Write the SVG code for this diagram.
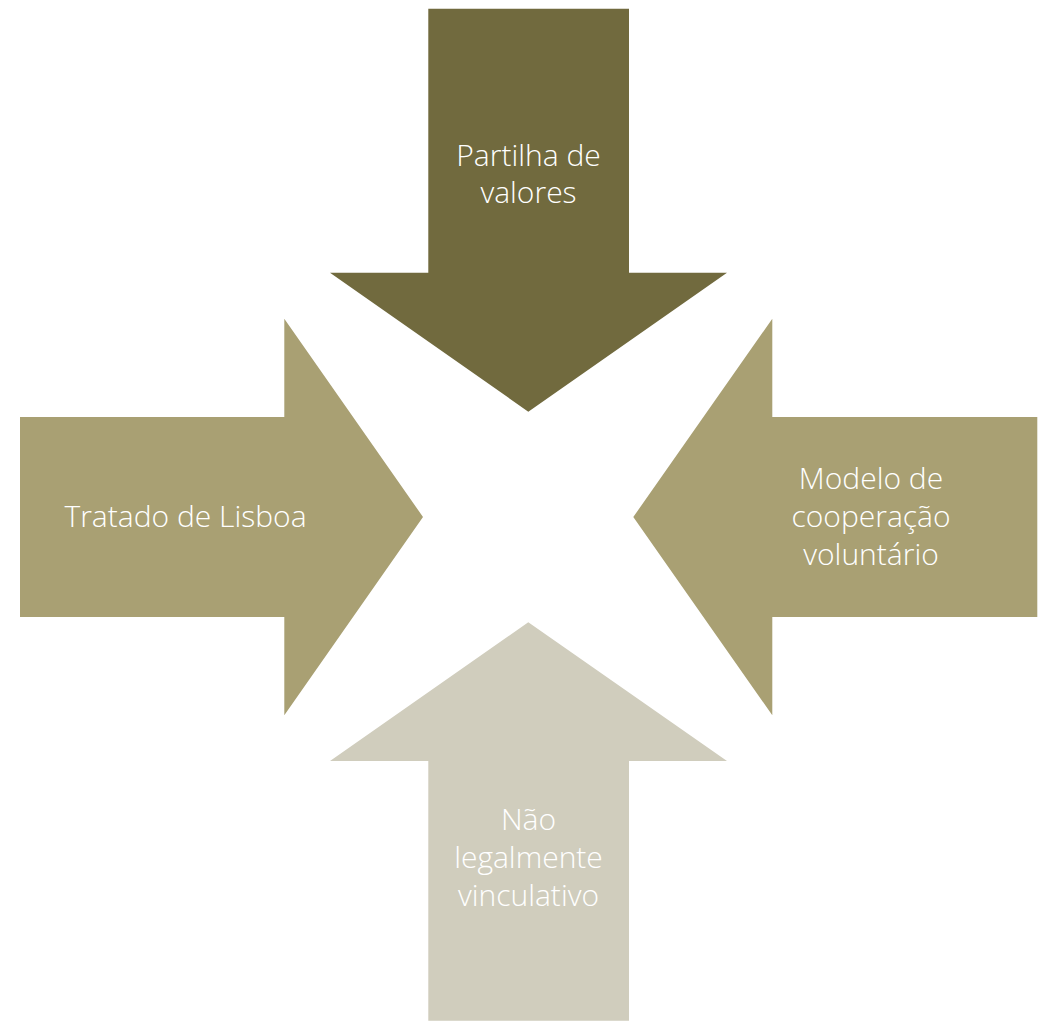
<svg xmlns="http://www.w3.org/2000/svg" width="1038" height="1021" viewBox="0 0 1038 1021">
<style>
text{font-family:"Open Sans","Noto Sans","Liberation Sans",sans-serif;font-weight:300;font-size:30px;fill:#ffffff;text-anchor:middle}
.dark{fill:#716A3E}
.mid{fill:#A9A073}
.light{fill:#D0CDBD}
</style>
<rect width="1038" height="1021" fill="#ffffff"/>
<g id="connectors"></g>
<g id="node-top">
<polygon class="dark" points="428.3,8.7 629,8.7 629,272.7 727,272.7 528.3,411.7 330,272.7 428.3,272.7"/>
<text x="528.5" y="165.7">Partilha de</text>
<text x="528.5" y="202.5">valores</text>
</g>
<g id="node-left">
<polygon class="mid" points="20,417 284.3,417 284.3,318.7 423,517 284.3,715.3 284.3,617 20,617"/>
<text x="185.5" y="526.7">Tratado de Lisboa</text>
</g>
<g id="node-right">
<polygon class="mid" points="1037.3,417 772.3,417 772.3,318.7 633.3,517 772.3,715.3 772.3,617 1037.3,617"/>
<text x="871" y="489">Modelo de</text>
<text x="871" y="526.7">cooperação</text>
<text x="871" y="565">voluntário</text>
</g>
<g id="node-bottom">
<polygon class="light" points="428.3,1020.7 629,1020.7 629,761 727,761 528.3,622.3 330,761 428.3,761"/>
<text x="528.5" y="830">Não</text>
<text x="528.5" y="867.7">legalmente</text>
<text x="528.5" y="906">vinculativo</text>
</g>
</svg>
